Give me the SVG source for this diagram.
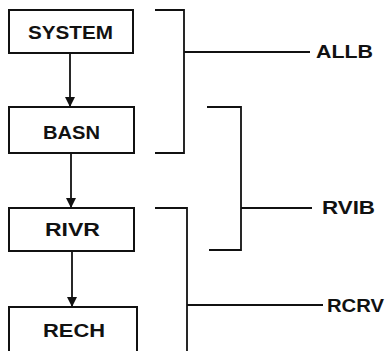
<svg xmlns="http://www.w3.org/2000/svg" width="385" height="351" viewBox="0 0 385 351">
<defs>
<style>
.box{fill:#fff;stroke:#111;stroke-width:2}
.ln{fill:none;stroke:#111;stroke-width:1.8}
.t{font-family:"Liberation Sans",Arial,sans-serif;font-size:19px;fill:#111;font-weight:bold}
.lb{font-family:"Liberation Sans",Arial,sans-serif;font-size:19px;fill:#111;font-weight:bold}
</style>
<marker id="ah" markerWidth="10" markerHeight="10" refX="10" refY="5" orient="auto" markerUnits="userSpaceOnUse">
<path d="M0,0 L10,5 L0,10 Z" fill="#111"/>
</marker>
</defs>
<rect width="385" height="351" fill="#fff"/>
<g id="connectors">
<line class="ln" x1="70" y1="53" x2="70" y2="107" marker-end="url(#ah)"/>
<line class="ln" x1="71" y1="153" x2="71" y2="208" marker-end="url(#ah)"/>
<line class="ln" x1="72" y1="251" x2="72" y2="307" marker-end="url(#ah)"/>
</g>
<g id="SYSTEM">
<rect class="box" x="9" y="10" width="124" height="43"/>
<text class="t" x="28" y="39" textLength="85" lengthAdjust="spacingAndGlyphs">SYSTEM</text>
</g>
<g id="BASN">
<rect class="box" x="9" y="107" width="125" height="46"/>
<text class="t" x="43" y="139" textLength="57" lengthAdjust="spacingAndGlyphs">BASN</text>
</g>
<g id="RIVR">
<rect class="box" x="9" y="208" width="125" height="43"/>
<text class="t" x="45" y="236" textLength="55" lengthAdjust="spacingAndGlyphs">RIVR</text>
</g>
<g id="RECH">
<rect class="box" x="9" y="307" width="128" height="50"/>
<text class="t" x="43" y="337" textLength="62" lengthAdjust="spacingAndGlyphs">RECH</text>
</g>
<g id="ALLB">
<path class="ln" d="M155,10 H184 V153 H155 M184,52 H310"/>
<text class="lb" x="316" y="58" textLength="57" lengthAdjust="spacingAndGlyphs">ALLB</text>
</g>
<g id="RVIB">
<path class="ln" d="M207,107 H241 V250 H209 M241,208 H312"/>
<text class="lb" x="322" y="214" textLength="53" lengthAdjust="spacingAndGlyphs">RVIB</text>
</g>
<g id="RCRV">
<path class="ln" d="M155,208 H187 V351 M187,305 H323"/>
<text class="lb" x="327" y="312" textLength="57" lengthAdjust="spacingAndGlyphs">RCRV</text>
</g>
</svg>
